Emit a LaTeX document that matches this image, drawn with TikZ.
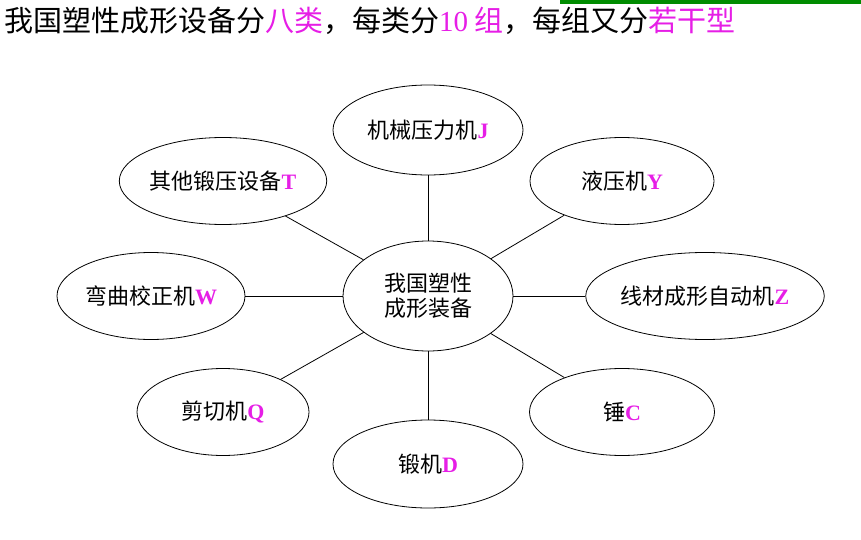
\documentclass[tikz,border=0pt]{standalone}
\usepackage{fontspec}
\usepackage{xcolor}
\usetikzlibrary{shapes.geometric}
\newfontfamily\cjk{Noto Sans CJK SC}
\newfontfamily\latinbf{Liberation Serif}
\definecolor{mag}{RGB}{230,30,230}
\definecolor{topgreen}{RGB}{0,140,0}
\newcommand{\lett}[1]{{\latinbf\bfseries\color{mag}#1}}
\tikzset{
  kind/.style={draw, ellipse, thick, inner sep=0pt, font=\cjk\fontsize{22}{25}\selectfont},
  link/.style={thick}
}
\begin{document}
\begin{tikzpicture}[x=1pt,y=-1pt]
  \useasboundingbox (0,0) rectangle (861,540);
  \fill[topgreen] (560,0) rectangle (861,4);
  \node[anchor=west, inner sep=0pt, font=\cjk\fontsize{29}{33}\selectfont] (title) at (4,21)
    {我国塑性成形设备分\textcolor{mag}{八类}，每类分\textcolor{mag}{{\latinbf 10}\ 组}，每组又分\textcolor{mag}{若干型}};

  \node[kind, minimum width=170, minimum height=110, align=center] (center) at (428,296) {我国塑性\\成形装备};
  \node[kind, minimum width=190, minimum height=90] (press) at (428,130) {机械压力机\lett{J}};
  \node[kind, minimum width=180, minimum height=87] (other) at (223,181) {其他锻压设备\lett{T}};
  \node[kind, minimum width=184, minimum height=87] (hydro) at (622,181) {液压机\lett{Y}};
  \node[kind, minimum width=188, minimum height=87] (bend) at (151,296) {弯曲校正机\lett{W}};
  \node[kind, minimum width=184, minimum height=87] (wire) at (705,296) {线材成形自动机\lett{Z}};
  \node[kind, minimum width=172, minimum height=87] (shear) at (223,412) {剪切机\lett{Q}};
  \node[kind, minimum width=190, minimum height=88] (forge) at (428,464) {锻机\lett{D}};
  \node[kind, minimum width=185, minimum height=87] (hammer) at (622,412) {锤\lett{C}};

  \foreach \n in {press,other,hydro,bend,wire,shear,forge,hammer}
    \draw[link] (center) -- (\n);
\end{tikzpicture}
\end{document}
